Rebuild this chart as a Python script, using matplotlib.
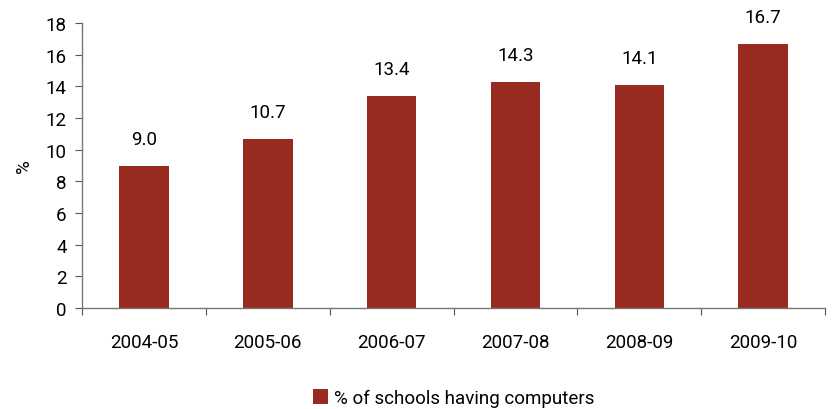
import matplotlib
matplotlib.use("Agg")
import matplotlib.pyplot as plt
import numpy as np

plt.rcParams["font.family"] = ["Liberation Sans Narrow", "Roboto", "DejaVu Sans"]

years = ["2004-05", "2005-06", "2006-07", "2007-08", "2008-09", "2009-10"]
pct = [9.0, 10.7, 13.4, 14.3, 14.1, 16.7]
bar_color = "#982A20"

fig = plt.figure(figsize=(8.32, 4.10), dpi=100)
ax = fig.add_axes([0.0986, 0.2463, 0.8930, 0.6952])

x = np.arange(len(years))
ax.bar(x, pct, width=0.4, color=bar_color, label="% of schools having computers")

for xi, v in zip(x, pct):
    ax.text(xi, v + 1.1, f"{v:.1f}", ha="center", va="bottom", fontsize=13.5)

ax.set_xlim(-0.5, len(years) - 0.5)
ax.set_ylim(0, 18)
ax.set_yticks(range(0, 19, 2))
ax.set_xticks(np.arange(-0.5, len(years), 1.0))
ax.set_xticklabels([])
ax.set_xticks(x, minor=True)
ax.set_xticklabels(years, minor=True)
ax.tick_params(axis="x", which="minor", length=0, pad=18, labelsize=13.5)
ax.tick_params(axis="x", which="major", direction="out", length=5, color="#555555")
ax.tick_params(axis="y", direction="out", length=5, color="#555555", labelsize=13.5, pad=6)

for s in ["top", "right"]:
    ax.spines[s].set_visible(False)
for s in ["left", "bottom"]:
    ax.spines[s].set_color("#777777")
    ax.spines[s].set_linewidth(1.0)

ax.set_ylabel("%", fontsize=13.5, labelpad=9)

ax.legend(loc="upper center", bbox_to_anchor=(0.5, -0.225), frameon=False,
          fontsize=13.5, handlelength=0.8, handleheight=0.8, handletextpad=0.3)

fig.savefig("out.png", dpi=100)
